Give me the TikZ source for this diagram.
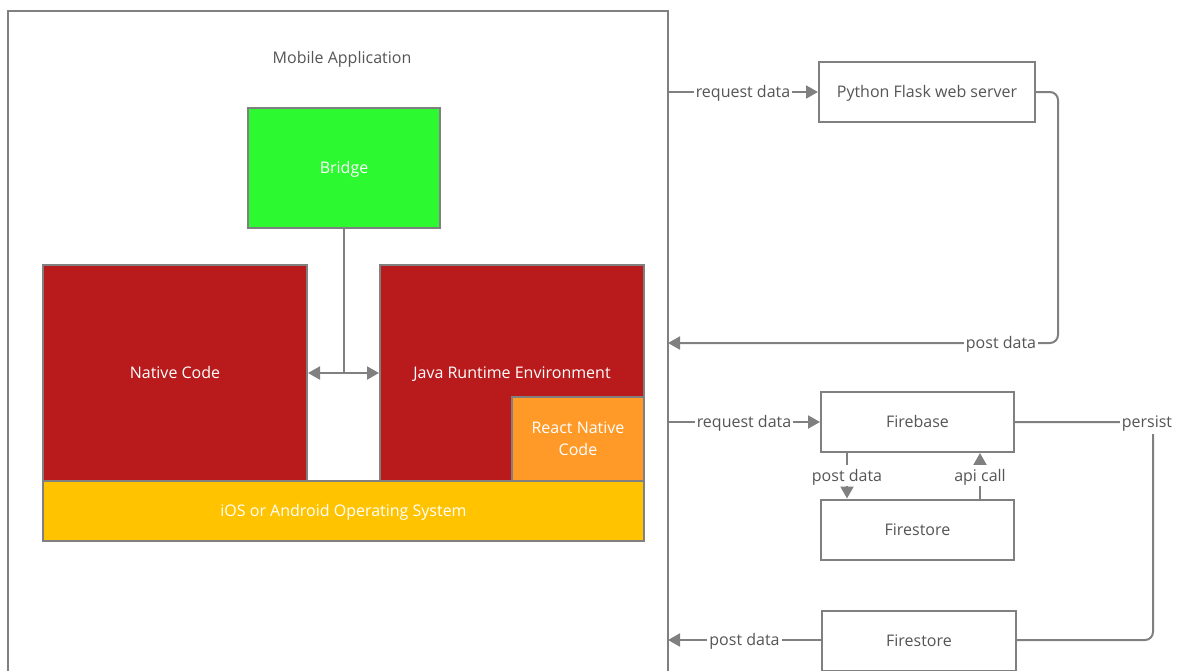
\documentclass[tikz,border=0pt]{standalone}
\usepackage{fontspec}
\setmainfont{Open Sans}
\usetikzlibrary{arrows.meta,calc}
\definecolor{lgray}{HTML}{808080}
\definecolor{tgray}{HTML}{555555}
\definecolor{bgreen}{HTML}{2CF92F}
\definecolor{bred}{HTML}{B91A1B}
\definecolor{borange}{HTML}{FF9A28}
\definecolor{byellow}{HTML}{FFC300}
\tikzset{
  tv/.style={text height=15pt, text depth=4pt},
  wbox/.style={draw=lgray, line width=2pt, fill=white, text=tgray, minimum width=#1, minimum height=60pt, inner sep=0pt, tv, font=\fontsize{16}{18}\selectfont},
  cbox/.style={draw=lgray, line width=2pt, text=white, inner sep=0pt, font=\fontsize{16}{22}\selectfont, align=center},
  conn/.style={draw=lgray, line width=2pt},
  arr/.style={conn, -{Triangle[length=12pt,width=13pt]}},
  darr/.style={conn, {Triangle[length=12pt,width=13pt]}-{Triangle[length=12pt,width=13pt]}},
  lbl/.style={fill=white, text=tgray, inner sep=2pt, tv, font=\fontsize{16}{18}\selectfont},
}
\begin{document}
\begin{tikzpicture}[x=1pt,y=-1pt]
\useasboundingbox (0,0) rectangle (1179,670);
% outer mobile application frame
\draw[conn] (8,690) -- (8,11) -- (668,11) -- (668,690);
\node[text=tgray, tv, font=\fontsize{16}{18}\selectfont] (title) at (342,58) {Mobile Application};
% inner boxes
\node[cbox, tv, fill=bgreen, minimum width=192pt, minimum height=120pt] (bridge) at (344,168) {Bridge};
\node[cbox, tv, fill=bred, minimum width=264pt, minimum height=216pt] (nat) at (175,373) {Native Code};
\node[cbox, tv, fill=bred, minimum width=264pt, minimum height=216pt] (java) at (512,373) {Java Runtime Environment};
\node[cbox, fill=borange, minimum width=132pt, minimum height=84pt] (rn) at (578,439) {React Native\\Code};
\node[cbox, tv, fill=byellow, minimum width=601pt, minimum height=60pt] (os) at (343.5,511) {iOS or Android Operating System};
\coordinate (mid) at ($(nat.east)!0.5!(java.west)$);
\draw[conn] (bridge.south) -- (bridge.south |- mid);
\draw[darr] (nat.east) -- (java.west);
% right side boxes
\node[wbox=216pt] (py) at (927,92) {Python Flask web server};
\node[wbox=193pt] (fb) at (917.5,422) {Firebase};
\node[wbox=193pt] (fs1) at (917.5,529.5) {Firestore};
\node[wbox=194pt] (fs2) at (919,641) {Firestore};
% frame edge points
\coordinate (e1) at (668,92);
\coordinate (e2) at (668,343);
\coordinate (e3) at (668,422);
\coordinate (e4) at (668,640);
% connectors
\draw[arr] (e1) -- node[lbl, pos=0.5]{request data} (py.west);
\draw[arr, rounded corners=8pt] (py.east) -- (1058,92) -- (1058,343) -- (e2);
\node[lbl] (pd1) at (1001,343) {post data};
\draw[arr] (e3) -- node[lbl, pos=0.5]{request data} (fb.west);
\draw[arr] (fb.south -| 847,0) -- node[lbl, pos=0.5, inner sep=1pt]{post data} (fs1.north -| 847,0);
\draw[arr] (fs1.north -| 980,0) -- node[lbl, pos=0.5, inner sep=1pt]{api call} (fb.south -| 980,0);
\draw[conn, rounded corners=8pt] (fb.east) -- (1153,422) -- (1153,640) -- (fs2.east |- 0,640);
\node[lbl] (persist) at (1147,422) {persist};
\draw[arr] (fs2.west |- 0,640) -- node[lbl, pos=0.5]{post data} (e4);
\end{tikzpicture}
\end{document}
